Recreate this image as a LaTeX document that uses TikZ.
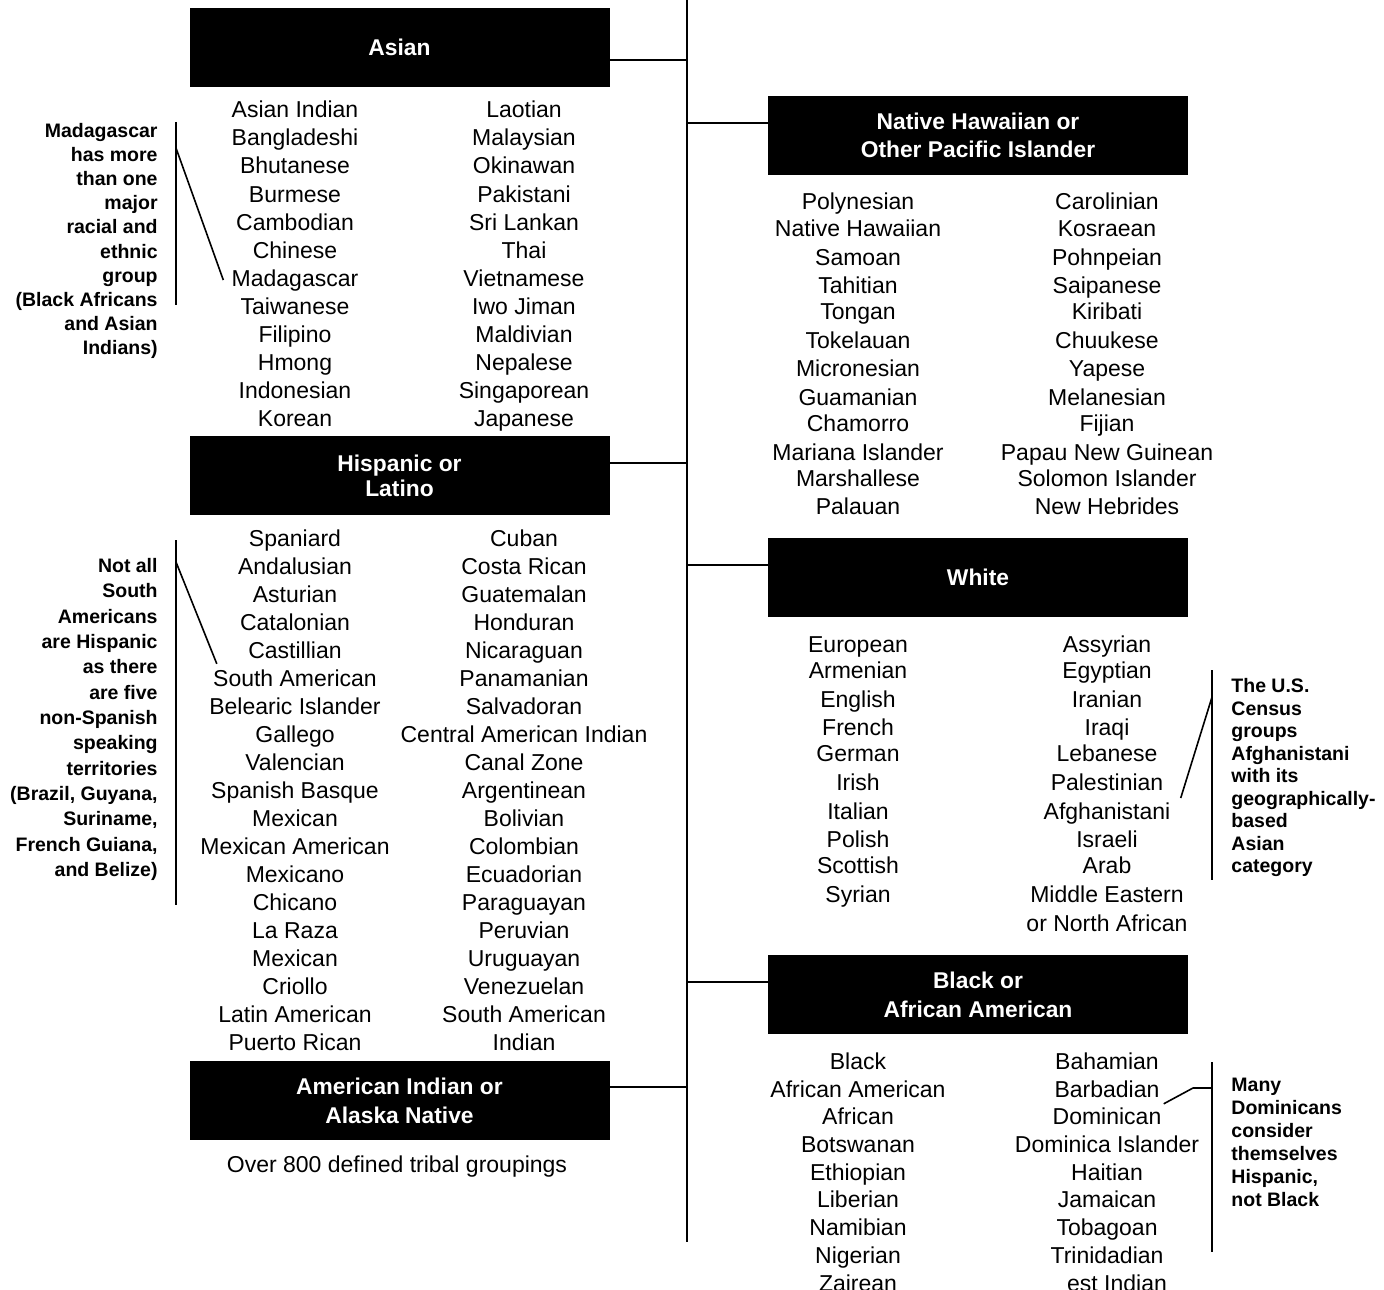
\documentclass[tikz,border=0pt]{standalone}
\usepackage{fontspec}
\setmainfont{Liberation Sans}
\begin{document}
\begin{tikzpicture}[x=0.5pt,y=-0.5pt,
 item/.style={anchor=base,font=\fontsize{11.5pt}{14pt}\selectfont,inner sep=0pt},
 hbox/.style={fill=black,text=white,minimum width=210pt,minimum height=39.5pt,inner sep=0pt,align=center},
 hfont/.style={font=\bfseries\fontsize{11.4pt}{#1}\selectfont},
 note/.style={inner sep=0pt,font=\bfseries\fontsize{9.75pt}{#1}\selectfont},
 ln/.style={line width=0.8pt}]
\useasboundingbox (0,0) rectangle (1384,1289);
\clip (0,0) rectangle (1384,1289);
\fill[white] (0,0) rectangle (1384,1289);

% trunk
\coordinate (ttop) at (687,0);
\coordinate (tbot) at (687,1242);
\draw[ln] (ttop) -- (tbot);

% header boxes
\node[hbox,hfont=14pt] (asian) at (399.5,47.5) {Asian};
\node[hbox,hfont=14pt] (nhpi) at (978,135.5) {Native Hawaiian or\\Other Pacific Islander};
\node[hbox,hfont=12.5pt] (hisp) at (399.5,475.5) {Hispanic or\\Latino};
\node[hbox,hfont=14pt] (white) at (978,577.5) {White};
\node[hbox,hfont=14.5pt] (black) at (978,994.5) {Black or\\African American};
\node[hbox,hfont=14.5pt] (amind) at (399.5,1100.5) {American Indian or\\Alaska Native};

% connectors to trunk
\coordinate (c1) at (687,60);
\coordinate (c2) at (687,123);
\coordinate (c3) at (687,463);
\coordinate (c4) at (687,565);
\coordinate (c5) at (687,982);
\coordinate (c6) at (687,1087);
\draw[ln] (c1) -- (asian.east |- c1);
\draw[ln] (c2) -- (nhpi.west |- c2);
\draw[ln] (c3) -- (hisp.east |- c3);
\draw[ln] (c4) -- (white.west |- c4);
\draw[ln] (c5) -- (black.west |- c5);
\draw[ln] (c6) -- (amind.east |- c6);

% Asian lists
\foreach \t [count=\i from 0] in {Asian Indian,Bangladeshi,Bhutanese,Burmese,Cambodian,Chinese,Madagascar,Taiwanese,Filipino,Hmong,Indonesian,Korean}
  \node[item] (al\i) at (295,118+28*\i) {\t};
\foreach \t [count=\i from 0] in {Laotian,Malaysian,Okinawan,Pakistani,Sri Lankan,Thai,Vietnamese,Iwo Jiman,Maldivian,Nepalese,Singaporean,Japanese}
  \node[item] (ar\i) at (524,118+28*\i) {\t};

% Hispanic lists
\foreach \t [count=\i from 0] in {Spaniard,Andalusian,Asturian,Catalonian,Castillian,South American,Belearic Islander,Gallego,Valencian,Spanish Basque,Mexican,Mexican American,Mexicano,Chicano,La Raza,Mexican,Criollo,Latin American,Puerto Rican}
  \node[item] (hl\i) at (295,546+28*\i) {\t};
\foreach \t [count=\i from 0] in {Cuban,Costa Rican,Guatemalan,Honduran,Nicaraguan,Panamanian,Salvadoran,Central American Indian,Canal Zone,Argentinean,Bolivian,Colombian,Ecuadorian,Paraguayan,Peruvian,Uruguayan,Venezuelan,South American,Indian}
  \node[item] (hr\i) at (524,546+28*\i) {\t};

\node[item] (tribal) at (397,1172) {Over 800 defined tribal groupings};

% Native Hawaiian lists
\foreach \t/\y [count=\i] in {Polynesian/202,Native Hawaiian/228,Samoan/257,Tahitian/285,Tongan/311,Tokelauan/340,Micronesian/368,Guamanian/397,Chamorro/423,Mariana Islander/452,Marshallese/478,Palauan/506}
  \node[item] (pl\i) at (858,\y+8) {\t};
\foreach \t/\y [count=\i] in {Carolinian/202,Kosraean/228,Pohnpeian/257,Saipanese/285,Kiribati/311,Chuukese/340,Yapese/368,Melanesian/397,Fijian/423,Papau New Guinean/452,Solomon Islander/478,New Hebrides/506}
  \node[item] (pr\i) at (1107,\y+8) {\t};

% White lists
\foreach \t/\y [count=\i] in {European/644,Armenian/670,English/699,French/727,German/753,Irish/782,Italian/811,Polish/839,Scottish/865,Syrian/894}
  \node[item] (wl\i) at (858,\y+8) {\t};
\foreach \t/\y [count=\i] in {Assyrian/644,Egyptian/670,Iranian/699,Iraqi/727,Lebanese/753,Palestinian/782,Afghanistani/811,Israeli/839,Arab/865,Middle Eastern/894,or North African/923}
  \node[item] (wr\i) at (1107,\y+8) {\t};

% Black lists
\foreach \t/\y [count=\i] in {Black/1061,African American/1089,African/1116,Botswanan/1144,Ethiopian/1172,Liberian/1199,Namibian/1227,Nigerian/1255,Zairean/1283}
  \node[item] (bl\i) at (858,\y+8) {\t};
\foreach \t/\y [count=\i] in {Bahamian/1061,Barbadian/1089,Dominican/1116,Dominica Islander/1144,Haitian/1172,Jamaican/1199,Tobagoan/1227,Trinidadian/1255}
  \node[item] (br\i) at (1107,\y+8) {\t};
\node[item] (br9) at (1117,1291) {est Indian};

% annotation 1 (Madagascar)
\node[note=12.05pt,anchor=north east,align=right] (n1) at (158,123)
 {Madagascar\\has more\\than one\\major\\racial and\\ethnic\\group\\(Black Africans\\and Asian\\Indians)};
\coordinate (v1t) at (176,122);
\coordinate (v1b) at (176,305);
\coordinate (d1) at (176,148);
\draw[ln] (v1t) -- (v1b);
\draw[ln] (d1) -- ([xshift=-4pt]al6.west);

% annotation 2 (South American)
\node[note=12.67pt,anchor=north east,align=right] (n2) at (158,558)
 {Not all\\South\\Americans\\are Hispanic\\as there\\are five\\non-Spanish\\speaking\\territories\\(Brazil, Guyana,\\Suriname,\\French Guiana,\\and Belize)};
\coordinate (v2t) at (176,540);
\coordinate (v2b) at (176,905);
\coordinate (d2) at (176,562);
\draw[ln] (v2t) -- (v2b);
\draw[ln] (d2) -- ([shift={(2pt,7pt)}]hl5.west);

% annotation 3 (Afghanistani)
\node[note=11.25pt,anchor=north west,align=left] (n3) at (1231,678)
 {The U.S.\\Census\\groups\\Afghanistani\\with its\\geographically-\\based\\Asian\\category};
\coordinate (v3t) at (1212,670);
\coordinate (v3b) at (1212,880);
\coordinate (d3) at (1212,697);
\draw[ln] (v3t) -- (v3b);
\draw[ln] ([shift={(5pt,7.5pt)}]wr7.east) -- (d3);

% annotation 4 (Dominican)
\node[note=11.5pt,anchor=north west,align=left] (n4) at (1231,1078)
 {Many\\Dominicans\\consider\\themselves\\Hispanic,\\not Black};
\coordinate (v4t) at (1212,1062);
\coordinate (v4b) at (1212,1252);
\coordinate (k4) at (1193,1088);
\coordinate (d4) at (1212,1088);
\draw[ln] (v4t) -- (v4b);
\draw[ln] ([shift={(1pt,6pt)}]br3.east) -- (k4) -- (d4);
\end{tikzpicture}
\end{document}
